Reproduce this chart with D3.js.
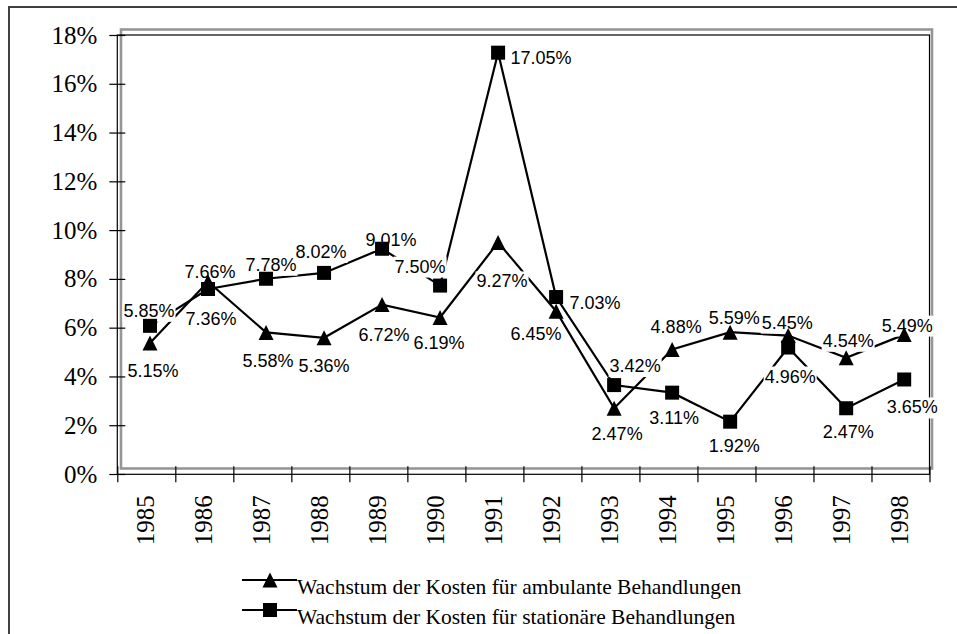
<!DOCTYPE html>
<html lang="de">
<head>
	<meta charset="utf-8">
<style>
  body {
    margin: 0;
    background: #fff;
  }
  .serif {
    font-family: "Liberation Serif", "Times New Roman", serif;
  }
  .lbl {
    font-family: "Liberation Sans", Arial, sans-serif;
    font-size: 18px;
  }
</style>
	<title>Wachstum der Kosten</title>
	<script type="text/javascript" src="https://cdn.jsdelivr.net/npm/d3@7/dist/d3.min.js"></script>
</head>
<body>
	<div id="chart"></div>
	<script type="text/javascript">

		// data
		var years = ["1985","1986","1987","1988","1989","1990","1991","1992","1993","1994","1995","1996","1997","1998"];
		var ambulant = [5.15, 7.66, 5.58, 5.36, 6.72, 6.19, 9.27, 6.45, 2.47, 4.88, 5.59, 5.45, 4.54, 5.49];
		var stationaer = [5.85, 7.36, 7.78, 8.02, 9.01, 7.50, 17.05, 7.03, 3.42, 3.11, 1.92, 4.96, 2.47, 3.65];
		var yTicks = [0, 2, 4, 6, 8, 10, 12, 14, 16, 18];
		var seriesNames = ["Wachstum der Kosten für ambulante Behandlungen",
		                   "Wachstum der Kosten für stationäre Behandlungen"];

		// where the hand placed labels sit, relative to the marker (dx, baseline dy)
		var ambLabelPos = [[3,34],[2,-4],[2,35],[0,34],[2,36],[-1,31],[4,45],[-20,29],[3,32],[4,-16],[4,-8],[-1,-7],[2,-11],[3,-3]];
		var statLabelPos = [[-1,-9],[3,36],[5,-8],[-3,-15],[9,-3],[-20,-13],[43,11],[39,12],[21,-13],[2,31],[4,30],[2,35],[2,30],[8,34]];

		var width = 957,
			height = 634;

		var svg = d3.select("#chart")
					.append("svg")
					.attr("width", width)
					.attr("height", height);

		// outer frame
		svg.append("rect")
			.attr("x", 9).attr("y", 7)
			.attr("width", 970).attr("height", 650)
			.attr("fill", "none")
			.attr("stroke", "#404040")
			.attr("stroke-width", 2);

		// axis scales
		var yAxisScale = d3.scaleLinear().domain([0, 18]).range([474, 35]);
		var xEdge = d3.scaleLinear().domain([0, years.length]).range([117.3, 929.5]);
		var xBand = d3.scaleBand().domain(years).range([117.3, 929.5]);

		// plot area (drawn a few pixels off the axes, as in the original)
		var xS = d3.scaleBand().domain(years).range([121, 933.2]);
		var yS = d3.scaleLinear().domain([0, 18]).range([468.5, 29.5]);

		svg.append("rect")
			.attr("x", 121).attr("y", 29.5)
			.attr("width", 811).attr("height", 439)
			.attr("fill", "none")
			.attr("stroke", "#969696")
			.attr("stroke-width", 2.6);

		svg.append("rect")
			.attr("x", 117.3).attr("y", 35)
			.attr("width", 812.2).attr("height", 439.3)
			.attr("fill", "none")
			.attr("stroke", "#000")
			.attr("stroke-width", 1.2);

		// y axis
		var yAxis = svg.append("g")
			.attr("class", "serif")
			.attr("transform", "translate(117.3,0)")
			.call(d3.axisLeft(yAxisScale)
				.tickValues(yTicks)
				.tickSize(8)
				.tickPadding(12)
				.tickFormat(function(d){ return d + "%"; }));
		yAxis.select(".domain").remove();
		yAxis.selectAll(".tick line").attr("x1", 8).attr("stroke", "#000").attr("stroke-width", 1.2);
		yAxis.selectAll(".tick text")
			.attr("font-size", 25)
			.attr("fill", "#000")
			.attr("font-family", "Liberation Serif, Times New Roman, serif");

		// x axis ticks at the category edges
		var xTicks = svg.append("g")
			.attr("transform", "translate(0,474.3)")
			.call(d3.axisBottom(xEdge)
				.tickValues(d3.range(0, years.length + 1))
				.tickSize(8)
				.tickFormat(""));
		xTicks.select(".domain").remove();
		xTicks.selectAll(".tick line").attr("y1", -8).attr("stroke", "#000").attr("stroke-width", 1.2);

		// year labels
		var xLabels = svg.append("g")
			.attr("transform", "translate(0,474.3)")
			.call(d3.axisBottom(xBand).tickSize(0).tickPadding(0));
		xLabels.select(".domain").remove();
		xLabels.selectAll(".tick text")
			.attr("font-size", 25)
			.attr("font-family", "Liberation Serif, Times New Roman, serif")
			.attr("fill", "#000")
			.attr("text-anchor", "end")
			.attr("transform", "rotate(-90)")
			.attr("x", -21)
			.attr("y", 8)
			.attr("dy", 0);

		// lines
		var line = d3.line()
			.x(function(d, i){ return xS(years[i]) + xS.bandwidth() / 2; })
			.y(function(d){ return yS(d); });

		[stationaer, ambulant].forEach(function(series){
			svg.append("path")
				.datum(series)
				.attr("d", line)
				.attr("fill", "none")
				.attr("stroke", "#000")
				.attr("stroke-width", 2.2);
		});

		// data labels with white boxes
		var fmt = d3.format(".2f");
		var labelLayer = svg.append("g");

		function addLabels(series, pos) {
			series.forEach(function(v, i){
				var g = labelLayer.append("g");
				var cx = xS(years[i]) + xS.bandwidth() / 2;
				var t = g.append("text")
					.attr("class", "lbl")
					.attr("x", cx + pos[i][0])
					.attr("y", yS(v) + pos[i][1])
					.attr("text-anchor", "middle")
					.attr("fill", "#000")
					.text(fmt(v) + "%");
				var b = t.node().getBBox();
				g.insert("rect", "text")
					.attr("x", b.x - 1)
					.attr("y", b.y)
					.attr("width", b.width + 2)
					.attr("height", b.height + 1)
					.attr("fill", "#fff");
			});
		}
		addLabels(ambulant, ambLabelPos);
		addLabels(stationaer, statLabelPos);

		// markers
		var tri = "M0,-7.5L7.5,7.5L-7.5,7.5Z";

		svg.append("g").selectAll("path")
			.data(ambulant)
			.enter().append("path")
			.attr("d", tri)
			.attr("transform", function(d, i){ return "translate(" + (xS(years[i]) + xS.bandwidth() / 2) + "," + yS(d) + ")"; })
			.attr("fill", "#000");

		svg.append("g").selectAll("rect")
			.data(stationaer)
			.enter().append("rect")
			.attr("x", function(d, i){ return xS(years[i]) + xS.bandwidth() / 2 - 7; })
			.attr("y", function(d){ return yS(d) - 7; })
			.attr("width", 14)
			.attr("height", 14)
			.attr("fill", "#000");

		// legend
		var legend = svg.append("g").attr("transform", "translate(242,0)");
		var legendRows = [{name: seriesNames[0], y: 580, shape: "tri"},
		                  {name: seriesNames[1], y: 610, shape: "sq"}];

		var rows = legend.selectAll("g")
			.data(legendRows)
			.enter().append("g")
			.attr("transform", function(d){ return "translate(0," + d.y + ")"; });

		rows.append("line")
			.attr("x1", 0).attr("x2", 55)
			.attr("stroke", "#000")
			.attr("stroke-width", 2.2);

		rows.filter(function(d){ return d.shape == "tri"; })
			.append("path")
			.attr("d", tri)
			.attr("transform", "translate(28,0)");

		rows.filter(function(d){ return d.shape == "sq"; })
			.append("rect")
			.attr("x", 21).attr("y", -7)
			.attr("width", 14).attr("height", 14);

		rows.append("text")
			.attr("x", 55)
			.attr("y", 13.5)
			.attr("font-size", 21.5)
			.attr("font-family", "Liberation Serif, Times New Roman, serif")
			.text(function(d){ return d.name; });

    </script>
</body>
</html>
